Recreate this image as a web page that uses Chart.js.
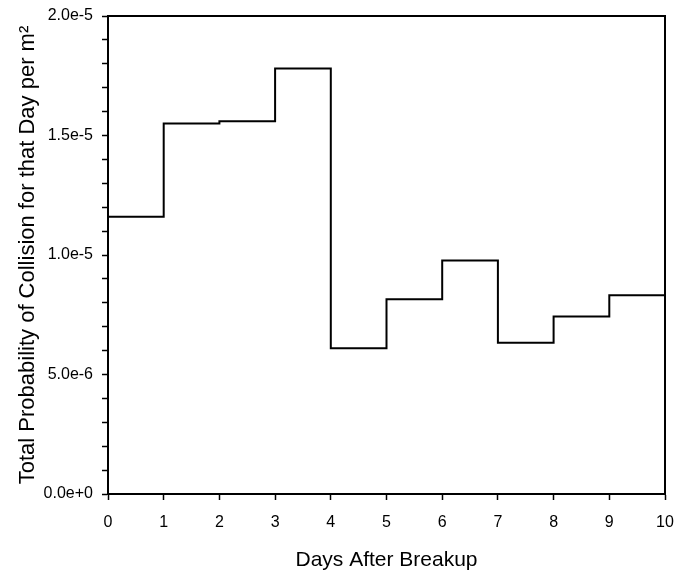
<!DOCTYPE html>
<html>
<head>
<meta charset="utf-8">
<script src="https://cdn.jsdelivr.net/npm/chart.js@4.4.1/dist/chart.umd.min.js"></script>
<style>
  html, body { margin: 0; padding: 0; background: #fff; }
  #wrap { width: 688px; height: 573px; }
</style>
</head>
<body>
<div id="wrap"><canvas id="myChart" width="688" height="573"></canvas></div>
<script>
// days after breakup (step edges) and probability for each day
const days = [0, 1, 2, 3, 4, 5, 6, 7, 8, 9, 10];
const probability = [1.16e-5, 1.55e-5, 1.56e-5, 1.78e-5, 6.1e-6, 8.15e-6, 9.77e-6, 6.33e-6, 7.43e-6, 8.32e-6, 0];
const yTickLabels = ['0.0e+0', '5.0e-6', '1.0e-5', '1.5e-5', '2.0e-5'];

const frame = {
    id: 'frame',
    afterDraw(chart) {
        const a = chart.chartArea;
        const c = chart.ctx;
        c.save();
        c.strokeStyle = '#000';
        c.lineWidth = 2;
        c.beginPath();
        c.moveTo(a.left, a.top);
        c.lineTo(a.right, a.top);
        c.lineTo(a.right, a.bottom);
        c.stroke();
        c.restore();
    }
};

const ctx = document.getElementById('myChart');
new Chart(ctx, {
    type: 'line',
    data: {
        datasets: [
            {
                label: 'Probability',
                data: days.map((d, i) => ({ x: d, y: probability[i] })),
                borderColor: '#000',
                borderWidth: 2,
                stepped: 'before',
                pointRadius: 0,
                fill: false
            }
        ]
    },
    options: {
        responsive: false,
        animation: false,
        layout: { padding: { top: 16, right: 23, left: 0, bottom: 0 } },
        plugins: { legend: { display: false }, tooltip: { enabled: false } },
        scales: {
            x: {
                type: 'linear',
                min: 0,
                max: 10,
                afterFit: s => { s.height = 79; s.paddingRight = 0; },
                grid: { drawOnChartArea: false, tickLength: 6, tickColor: '#000', tickWidth: 1.5 },
                border: { color: '#000', width: 2 },
                ticks: { stepSize: 1, color: '#000', padding: 13, maxRotation: 0,
                         font: { family: 'Liberation Sans', size: 16 } },
                title: { display: true, text: 'Days After Breakup', color: '#000',
                         font: { family: 'Liberation Sans', size: 21 }, padding: { top: 0, bottom: 0 } }
            },
            y: {
                min: 0,
                max: 2e-5,
                afterFit: s => { s.width = 108; s.paddingTop = 0; s.paddingBottom = 0; },
                afterBuildTicks: s => {
                    s.ticks = [];
                    for (let i = 0; i <= 20; i++) s.ticks.push({ value: i * 1e-6 });
                },
                grid: { drawOnChartArea: false, tickLength: 6, tickColor: '#000', tickWidth: 1.5 },
                border: { color: '#000', width: 2 },
                ticks: {
                    color: '#000',
                    padding: 9,
                    font: { family: 'Liberation Sans', size: 16 },
                    callback: (v, i) => (i % 5 === 0 ? yTickLabels[i / 5] : '')
                },
                title: { display: true, text: 'Total Probability of Collision for that Day per m²', color: '#000',
                         font: { family: 'Liberation Sans', size: 22 }, padding: { top: 15, bottom: 0 } }
            }
        }
    },
    plugins: [frame]
});
</script>
</body>
</html>
